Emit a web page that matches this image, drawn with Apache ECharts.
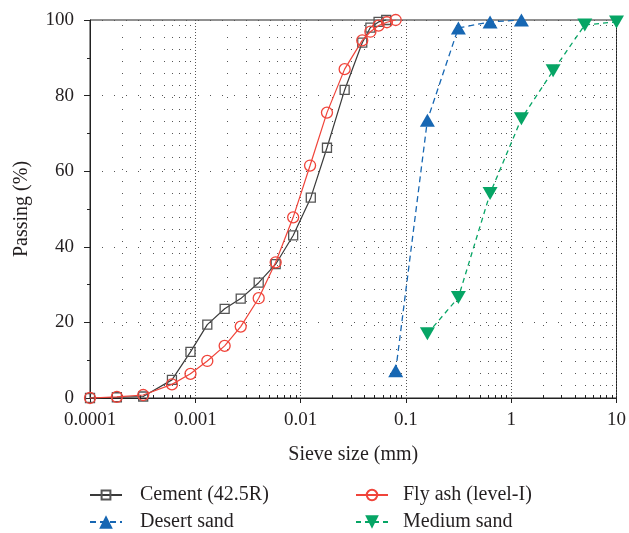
<!DOCTYPE html>
<html>
<head>
<meta charset="utf-8">
<title>Particle size distribution</title>
<script src="https://cdn.jsdelivr.net/npm/echarts@6/dist/echarts.min.js"></script>
<style>
  html, body { margin: 0; padding: 0; background: #fff; }
  #chart { width: 629px; height: 533px; }
</style>
</head>
<body>
<div id="chart"></div>
<script>
// Sieve sizes (mm) and cumulative passing (%) for each material
const cementSize    = [0.0001, 0.00018, 0.00032, 0.0006, 0.0009, 0.0013, 0.0019, 0.0027, 0.004, 0.0058, 0.0085, 0.0125, 0.0178, 0.0262, 0.0385, 0.046, 0.055, 0.065];
const cementPassing = [0, 0.2, 0.4, 4.8, 12.2, 19.4, 23.6, 26.3, 30.5, 35.4, 43.0, 53.0, 66.2, 81.5, 94.0, 98.0, 99.5, 100];

const flyAshSize    = [0.0001, 0.00018, 0.00032, 0.0006, 0.0009, 0.0013, 0.0019, 0.0027, 0.004, 0.0058, 0.0085, 0.0123, 0.0178, 0.0262, 0.0385, 0.046, 0.055, 0.066, 0.08];
const flyAshPassing = [0, 0.3, 0.8, 3.6, 6.4, 9.8, 13.8, 18.9, 26.4, 35.9, 47.8, 61.5, 75.5, 87.0, 94.6, 96.9, 98.5, 99.4, 100];

const desertSize    = [0.08, 0.16, 0.315, 0.63, 1.25];
const desertPassing = [7.2, 73.5, 97.9, 99.5, 100];

const mediumSize    = [0.16, 0.315, 0.63, 1.25, 2.5, 5, 10];
const mediumPassing = [17.0, 26.6, 54.1, 73.9, 86.6, 98.7, 99.5];

// Axis ranges and tick labels
const xRange = [0.0001, 10];
const yRange = [0, 100];
const yStep = 20;
const xDecades = [0.0001, 0.001, 0.01, 0.1, 1];

// Minor logarithmic ticks (2..9 within each decade)
const minorX = [];
xDecades.forEach(d => { for (let k = 2; k <= 9; k++) minorX.push(+(d * k).toPrecision(3)); });

const serif = '"Liberation Serif", "Times New Roman", "DejaVu Serif", serif';
const ink = '#231f20';
const colors = { cement: '#3a3a3a', flyAsh: '#f0443a', desert: '#1767b3', medium: '#06a565' };

const pairs = (xs, ys) => xs.map((x, i) => [x, ys[i]]);

const chart = echarts.init(document.getElementById('chart'), null, { renderer: 'canvas' });

const legendBase = (name, left, top, h, pad) => ({
  data: [name], left: left, top: top, padding: 0,
  itemWidth: 32, itemHeight: h, selectedMode: false,
  textStyle: { fontFamily: serif, fontSize: 20, lineHeight: 20, color: ink, padding: [0, 0, 0, pad] }
});

chart.setOption({
  animation: false,
  backgroundColor: '#fff',
  grid: { left: 90, right: 10, top: 20, bottom: 135, show: true, borderColor: '#222', borderWidth: 1, backgroundColor: 'transparent' },
  legend: [
    legendBase('Cement (42.5R)', 89, 485, 11, 13),
    legendBase('Desert sand', 89, 512, 17, 13),
    legendBase('Fly ash (level-I)', 355, 485, 13, 10),
    legendBase('Medium sand', 355, 512, 17, 10)
  ],
  xAxis: {
    type: 'log', logBase: 10, min: xRange[0], max: xRange[1],
    axisLine: { show: true, lineStyle: { color: '#222', width: 1 } },
    axisTick: { show: true, inside: false, length: 5, lineStyle: { color: '#222' } },
    axisLabel: {
      fontFamily: serif, fontSize: 19, color: ink, margin: 13,
      formatter: v => String(parseFloat((+v).toPrecision(3)))
    },
    splitLine: { show: true, lineStyle: { color: '#555', width: 1, type: [1, 2] } },
    name: 'Sieve size (mm)', nameLocation: 'middle', nameGap: 47,
    nameTextStyle: { fontFamily: serif, fontSize: 20, color: ink }
  },
  yAxis: {
    type: 'value', min: yRange[0], max: yRange[1], interval: yStep,
    axisLine: { show: true, lineStyle: { color: '#222', width: 1 } },
    axisTick: { show: true, inside: false, length: 6, lineStyle: { color: '#222' } },
    minorTick: { show: true, splitNumber: 2, length: 3, lineStyle: { color: '#222' } },
    axisLabel: { fontFamily: serif, fontSize: 19, color: ink, margin: 16 },
    splitLine: { show: true, lineStyle: { color: '#555', width: 1, type: [1, 11] } },
    name: 'Passing (%)', nameLocation: 'middle', nameGap: 58,
    nameTextStyle: { fontFamily: serif, fontSize: 20, color: ink }
  },
  series: [
    {
      // minor vertical grid lines and inward minor ticks of the log axis
      type: 'custom', coordinateSystem: 'cartesian2d', silent: true, z: 1,
      data: minorX.map(v => [v, yRange[0]]),
      encode: { x: 0, y: 1 },
      renderItem: (params, api) => {
        const v = api.value(0);
        const p0 = api.coord([v, yRange[0]]);
        const p1 = api.coord([v, yRange[1]]);
        const x = Math.round(p0[0]) + 0.5;
        return {
          type: 'group',
          children: [
            { type: 'line', shape: { x1: x, y1: p0[1], x2: x, y2: p1[1] }, style: { stroke: '#555', lineWidth: 1, lineDash: [1, 11] } },
            { type: 'line', shape: { x1: x, y1: p0[1], x2: x, y2: p0[1] - 3 }, style: { stroke: '#222', lineWidth: 1 } }
          ]
        };
      }
    },
    {
      name: 'Cement (42.5R)', type: 'line', data: pairs(cementSize, cementPassing), clip: false, z: 3,
      symbol: 'rect', symbolSize: 9,
      itemStyle: { color: 'rgba(255,255,255,0)', borderColor: '#555', borderWidth: 1.3 },
      lineStyle: { color: colors.cement, width: 1.2 }
    },
    {
      name: 'Fly ash (level-I)', type: 'line', data: pairs(flyAshSize, flyAshPassing), clip: false, z: 4,
      symbol: 'circle', symbolSize: 11,
      itemStyle: { color: 'rgba(255,255,255,0)', borderColor: colors.flyAsh, borderWidth: 1.3 },
      lineStyle: { color: colors.flyAsh, width: 1.2 }
    },
    {
      name: 'Desert sand', type: 'line', data: pairs(desertSize, desertPassing), clip: false, z: 5,
      symbol: 'triangle', symbolSize: [15, 13],
      itemStyle: { color: colors.desert },
      lineStyle: { color: colors.desert, width: 1.3, type: [6, 4] }
    },
    {
      name: 'Medium sand', type: 'line', data: pairs(mediumSize, mediumPassing), clip: false, z: 5,
      symbol: 'triangle', symbolRotate: 180, symbolSize: [15, 13],
      itemStyle: { color: colors.medium },
      lineStyle: { color: colors.medium, width: 1.3, type: [5, 4] }
    }
  ]
});
</script>
</body>
</html>
